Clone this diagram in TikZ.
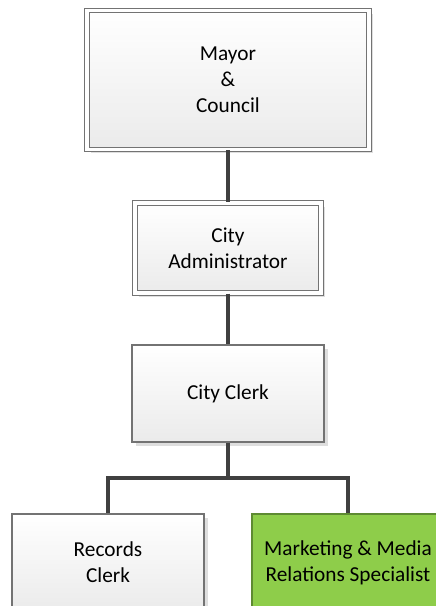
\documentclass[tikz,border=0pt]{standalone}
\usepackage{fontspec}
\setmainfont{Carlito}
\usetikzlibrary{shadows}
\definecolor{frame}{HTML}{737373}
\definecolor{wire}{HTML}{404040}
\definecolor{leafgreen}{HTML}{8ECD4A}
\definecolor{leafedge}{HTML}{5E8A32}
\tikzset{
  box/.style={rectangle, inner sep=0pt, draw=frame, line width=1.2pt,
    top color=white, bottom color=black!8, align=center,
    font=\fontsize{21.3}{26}\selectfont,
    drop shadow={shadow xshift=3.5pt, shadow yshift=-3.5pt, fill=black!13, opacity=1}},
  dbox/.style={box, double=white, double distance=3.5pt, line width=1.2pt},
  greenbox/.style={box, top color=leafgreen, bottom color=leafgreen, draw=leafedge},
  wireline/.style={draw=wire, line width=3.2pt}
}
\begin{document}
\begin{tikzpicture}[x=1pt, y=-1pt]
  \useasboundingbox (0,0) rectangle (436,606);
  \clip (0,0) rectangle (436,606);
  % tiers of the chart
  \node[dbox, minimum width=282pt, minimum height=139pt] (mayor) at (228,80)
    {Mayor\\\&\\Council};
  \node[dbox, minimum width=186pt, minimum height=90pt] (admin) at (228,248)
    {City\\Administrator};
  \node[box, minimum width=192pt, minimum height=97pt] (clerk) at (228,393.5)
    {City Clerk};
  \node[box, minimum width=192pt, minimum height=97pt] (records) at (108,562.5)
    {Records\\Clerk};
  \node[greenbox, minimum width=192pt, minimum height=97pt] (market) at (348,562.5)
    {Marketing \& Media\\Relations Specialist};
  % reporting lines
  \coordinate (bus) at (228,478);
  \draw[wireline] (mayor.south) -- (admin.north);
  \draw[wireline] (admin.south) -- (clerk.north);
  \draw[wireline] (clerk.south) -- (bus) -| (records.north);
  \draw[wireline] (bus) -| (market.north);
\end{tikzpicture}
\end{document}
